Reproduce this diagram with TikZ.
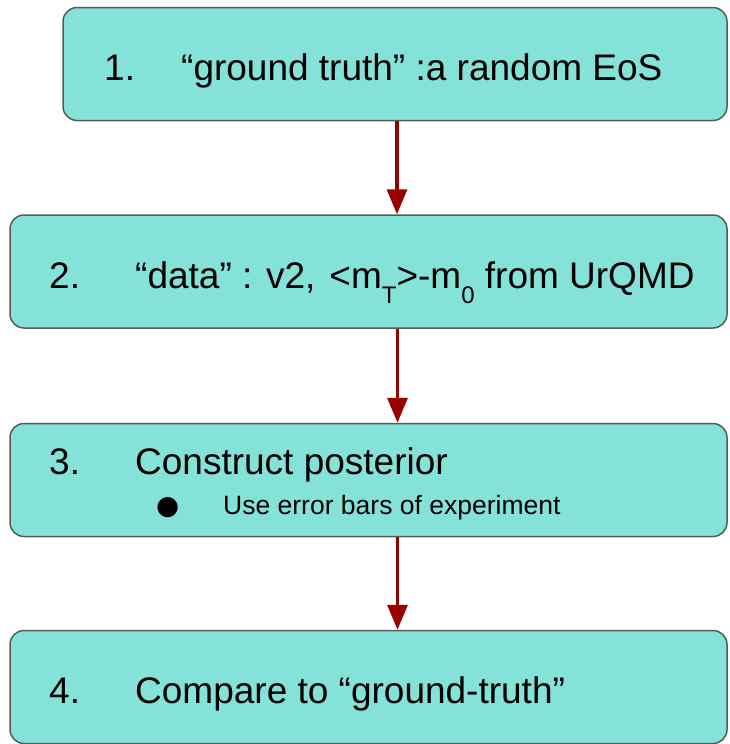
\documentclass[tikz,border=0pt]{standalone}
\usepackage{fontspec}
\setmainfont{Liberation Sans}
\newfontfamily\dotfont{DejaVu Sans}
\usetikzlibrary{arrows.meta,positioning}
\definecolor{boxfill}{HTML}{84E2D8}
\definecolor{boxedge}{HTML}{595959}
\definecolor{arrowred}{HTML}{990000}
\tikzset{
  stepbox/.style ={draw=boxedge,fill=boxfill,line width=1.5pt,rounded corners=14pt,minimum height=113pt},
  item/.style    ={anchor=base west,inner sep=0pt,font=\fontsize{37}{40}\selectfont},
  subitem/.style ={anchor=base west,inner sep=0pt,font=\fontsize{26.5}{28}\selectfont},
  flow/.style    ={-{Triangle[width=20pt,length=25pt]},line width=3.5pt,arrowred},
}
\newcommand{\lowsub}[1]{\raisebox{-15pt}{\fontsize{24}{24}\selectfont #1}}

\begin{document}
\begin{tikzpicture}[x=1pt,y=-1pt]
  \useasboundingbox (0,0) rectangle (729,744);
  \node[stepbox,minimum width=664pt] (b1) at (395,64) {};
  \node[stepbox,minimum width=717pt] (b2) at (368.5,271.5) {};
  \node[stepbox,minimum width=717pt] (b3) at (368.5,480) {};
  \node[stepbox,minimum width=717pt] (b4) at (368.5,687) {};
  % step texts, number and body on a shared baseline
  \node[item] (n1) at (104,80) {1.};
  \node[item] (t1) at (181,80) {“ground truth” :a random EoS};
  \node[item] (n2) at (49,288) {2.};
  \node[item] (t2) at (135,288) {“data” : v2,\hspace{14pt}<m\lowsub{T}>-m\lowsub{0} from UrQMD};
  \node[item] (n3) at (49,474) {3.};
  \node[item] (t3) at (135,474) {Construct posterior};
  \node[subitem] (d3) at (156,514) {\dotfont ●};
  \node[subitem] (s3) at (223,514) {Use error bars of experiment};
  \node[item] (n4) at (49,703) {4.};
  \node[item] (t4) at (135,703) {Compare to “ground-truth”};
  % arrows sit a little right of the box centres
  \draw[flow] ([xshift=2pt]b1.south) -- ([xshift=2pt]b1.south |- b2.north);
  \draw[flow] ([xshift=29pt]b2.south) -- ([xshift=29pt]b2.south |- b3.north);
  \draw[flow] ([xshift=29pt]b3.south) -- ([xshift=29pt]b3.south |- b4.north);
\end{tikzpicture}
\end{document}
